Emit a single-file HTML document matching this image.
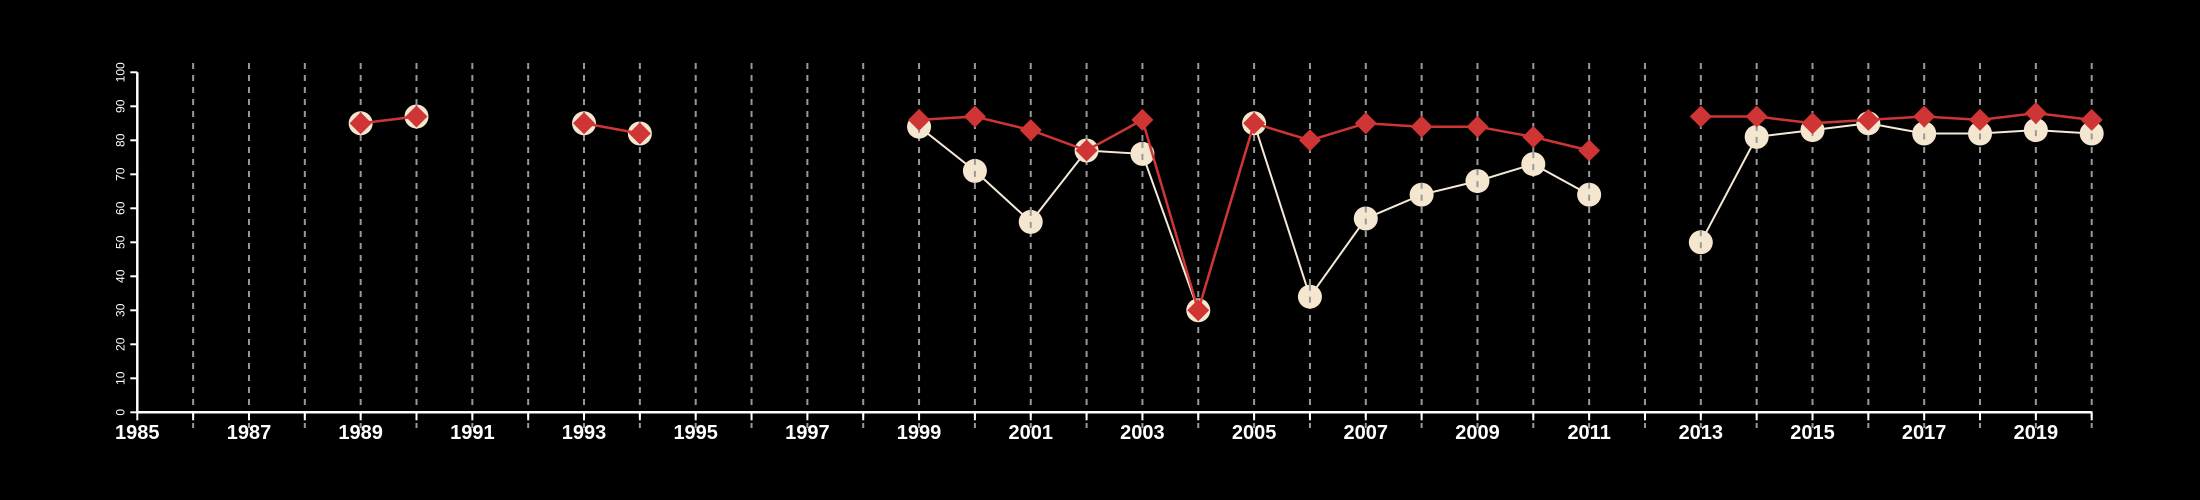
<!DOCTYPE html>
<html><head><meta charset="utf-8"><style>
html,body{margin:0;padding:0;background:#000;}
svg{display:block;font-family:"Liberation Sans",sans-serif;}
</style></head><body>
<svg id="chart" width="2200" height="500" viewBox="0 0 2200 500" xmlns="http://www.w3.org/2000/svg">
<rect width="2200" height="500" fill="#000"/>
<g id="grid"></g>
<g id="axes"></g>
<g id="series"></g>
</svg>
<script>
const years = [1989,1990,1991,1992,1993,1994,1995,1996,1997,1998,1999,2000,2001,2002,2003,2004,2005,2006,2007,2008,2009,2010,2011,2012,2013,2014,2015,2016,2017,2018,2019,2020];
const whiteValues = [85,87,null,null,85,82,null,null,null,null,84,71,56,77,76,30,85,34,57,64,68,73,64,null,50,81,83,85,82,82,83,82];
const redValues = [85,87,null,null,85,82,null,null,null,null,86,87,83,77,86,30,85,80,85,84,84,81,77,null,87,87,85,86,87,86,88,86];
const yTicks = [0,10,20,30,40,50,60,70,80,90,100];
const xTickYears = [1985,1986,1987,1988,1989,1990,1991,1992,1993,1994,1995,1996,1997,1998,1999,2000,2001,2002,2003,2004,2005,2006,2007,2008,2009,2010,2011,2012,2013,2014,2015,2016,2017,2018,2019,2020];
const xLabelYears = [1985,1987,1989,1991,1993,1995,1997,1999,2001,2003,2005,2007,2009,2011,2013,2015,2017,2019];

const NS="http://www.w3.org/2000/svg";
const x = yr => 137.3 + (yr-1985)*55.84;
const y = v => 412.3 - v*3.4;
function mk(tag, parent, attrs){const e=document.createElementNS(NS,tag);for(const k in attrs)e.setAttribute(k,attrs[k]);parent.appendChild(e);return e;}
const grid=document.getElementById('grid'), axes=document.getElementById('axes'), series=document.getElementById('series');

// axes
let ax=mk('line',axes,{x1:x(1985),x2:x(2020),y1:y(0),y2:y(0),stroke:'#fff','stroke-width':2.5});


let ay=mk('line',axes,{x1:x(1985),x2:x(1985),y1:y(0),y2:y(100),stroke:'#fff','stroke-width':2.5});


yTicks.forEach(t=>{
  const tk=mk('line',axes,{x1:x(1985)-7,x2:x(1985),y1:y(t),y2:y(t),stroke:'#fff','stroke-width':2});
  
  
  const tx=mk('text',axes,{x:0,y:0,fill:'#fff','font-size':12,'text-anchor':'middle',transform:`translate(${x(1985)-13},${y(t)}) rotate(-90)`});
  tx.textContent=t;
  
  
});
xTickYears.forEach(yr=>{
  const tk=mk('line',axes,{x1:x(yr),x2:x(yr),y1:y(0),y2:y(0)+8,stroke:'#fff','stroke-width':2});
  
  
  if(yr>1985){
    const g=mk('line',grid,{x1:x(yr),x2:x(yr),y1:63,y2:428,stroke:'#999','stroke-width':2,'stroke-dasharray':'6 6'});
    
    
  }
});
xLabelYears.forEach(yr=>{
  const tx=mk('text',axes,{x:x(yr),y:439,fill:'#fff','font-size':20,'font-weight':'bold','text-anchor':'middle'});
  tx.textContent=yr;
  
  
});

function segments(vals){const segs=[];let cur=[];vals.forEach((v,i)=>{if(v==null){if(cur.length)segs.push(cur);cur=[];}else cur.push([x(years[i]),y(v)]);});if(cur.length)segs.push(cur);return segs;}

segments(whiteValues).forEach(s=>{
  const p=mk('polyline',series,{points:s.map(q=>q.join(',')).join(' '),fill:'none',stroke:'#f5ead8','stroke-width':2});
  
  
});
whiteValues.forEach((v,i)=>{ if(v==null)return;
  const c=mk('circle',series,{cx:x(years[i]),cy:y(v),r:12,fill:'#f5e6cf'});
  
  
  const g=mk('line',series,{x1:x(years[i]),x2:x(years[i]),y1:y(v)-12,y2:y(v)+12,stroke:'#999','stroke-width':2,'stroke-dasharray':'6 6'});
  
  
});
segments(redValues).forEach(s=>{
  const p=mk('polyline',series,{points:s.map(q=>q.join(',')).join(' '),fill:'none',stroke:'#d03535','stroke-width':2.5});
  
  
});
redValues.forEach((v,i)=>{ if(v==null)return;
  const cx=x(years[i]), cy=y(v), r=11;
  const d=mk('polygon',series,{points:`${cx},${cy-r} ${cx+r},${cy} ${cx},${cy+r} ${cx-r},${cy}`,fill:'#d03535'});
  
  
});
</script>
</body></html>
